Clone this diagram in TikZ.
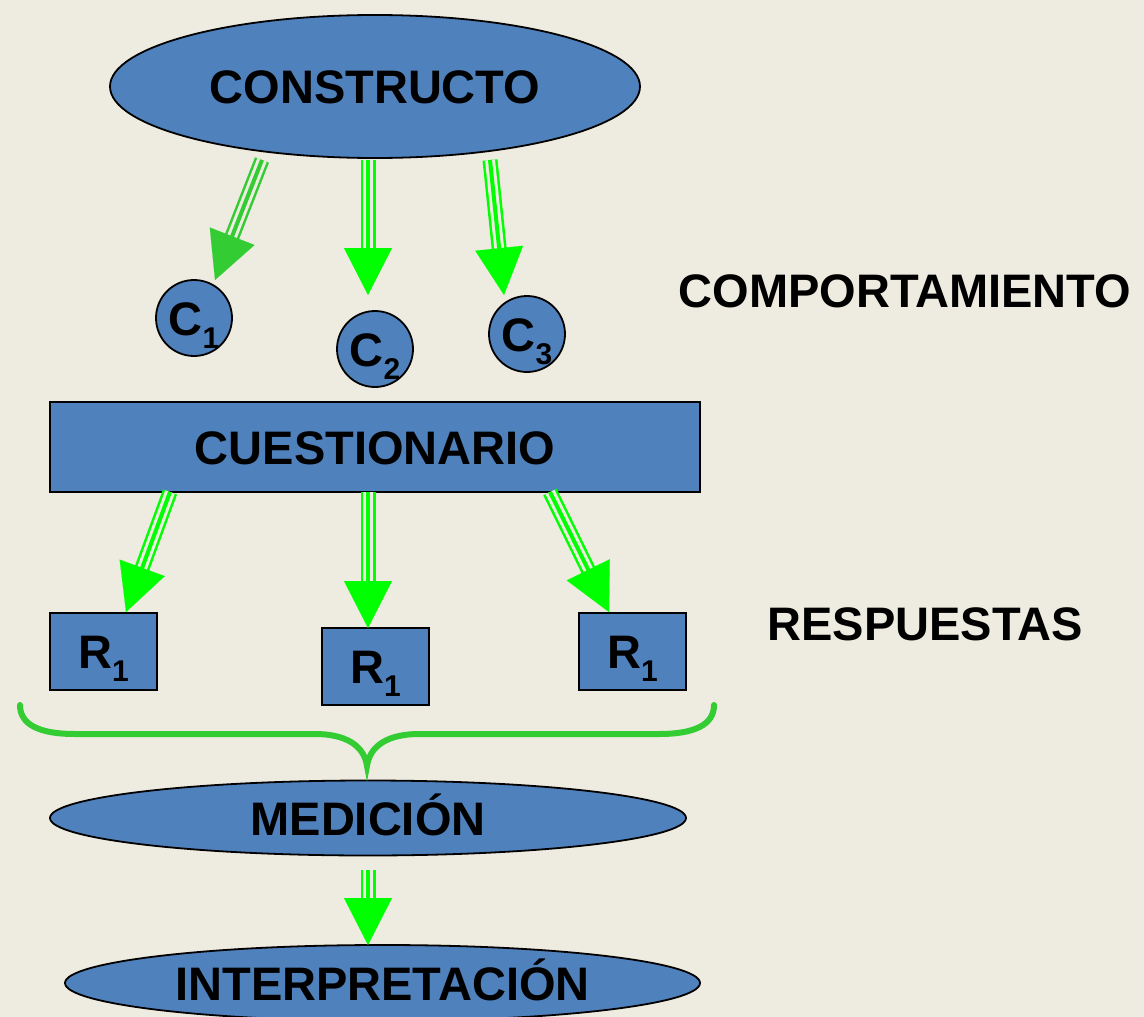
\documentclass[tikz,border=0pt]{standalone}
\usepackage{fontspec}
\setmainfont{Liberation Sans}
\usetikzlibrary{shapes.geometric,arrows.meta}
\definecolor{fondo}{RGB}{238,235,224}
\definecolor{azul}{RGB}{79,129,189}
\definecolor{verde}{RGB}{51,204,51}
\definecolor{lima}{RGB}{0,255,0}
\newcommand{\sub}[1]{\raisebox{-13pt}{\fontsize{30}{30}\selectfont #1}}
\tikzset{
  texto/.style={font=\fontsize{47}{50}\selectfont\bfseries, text height=34pt, text depth=0pt, inner sep=0pt},
  elipse/.style={texto, ellipse, draw, line width=1.8pt, fill=azul},
  caja/.style={texto, rectangle, draw, line width=1.8pt, fill=azul},
  bola/.style={texto, circle, draw, line width=1.8pt, fill=azul, minimum size=76pt},
  flecha/.style={draw=#1, fill=#1, line width=0.1pt, -{Triangle[width=48pt,length=47pt]},
    preaction={draw=#1, -, line width=2.5pt, double=fondo, double distance=10pt, shorten >=44pt},
    preaction={draw=#1, -, line width=4pt, shorten >=44pt}},
  flecha/.default=lima
}

\begin{document}
\begin{tikzpicture}[x=1pt,y=-1pt]
  \useasboundingbox (0,0) rectangle (1144,1017);
  \fill[fondo] (0,0) rectangle (1144,1017);

  \node[elipse, minimum width=530pt, minimum height=143pt] (constructo) at (375,86.5) {CONSTRUCTO};
  \node[bola] (c1) at (194,318) {C\sub{1}};
  \node[bola] (c2) at (375,349) {C\sub{2}};
  \node[bola] (c3) at (527,334) {C\sub{3}};
  \node[texto] (comport) at (905,290) {COMPORTAMIENTO};

  \node[caja, minimum width=650pt, minimum height=90pt] (cuest) at (375,447) {CUESTIONARIO};
  \node[caja, minimum width=107pt, minimum height=77pt] (r1) at (103.5,651.5) {R\sub{1}};
  \node[caja, minimum width=107pt, minimum height=77pt] (r2) at (375.5,666.5) {R\sub{1}};
  \node[caja, minimum width=107pt, minimum height=77pt] (r3) at (632.5,651.5) {R\sub{1}};
  \node[texto] (resp) at (925,623) {RESPUESTAS};

  \node[elipse, minimum width=636pt, minimum height=75pt] (medicion) at (368,818) {MEDICIÓN};
  \node[elipse, minimum width=635pt, minimum height=76pt] (interp) at (382.5,983) {INTERPRETACIÓN};

  \coordinate (a1) at (262,160);  \coordinate (t1) at (215,280);
  \coordinate (a2) at (368,160);  \coordinate (t2) at (368,295);
  \coordinate (a3) at (490,160);  \coordinate (t3) at (504,295);
  \coordinate (a4) at (170,492);  \coordinate (t4) at (126,612);
  \coordinate (a5) at (368,492);  \coordinate (t5) at (368,628);
  \coordinate (a6) at (550,492);  \coordinate (t6) at (609,612);
  \coordinate (a7) at (368,870);  \coordinate (t7) at (368,945);

  \draw[flecha=verde] (a1) -- (t1);
  \draw[flecha] (a2) -- (t2);
  \draw[flecha] (a3) -- (t3);
  \draw[flecha] (a4) -- (t4);
  \draw[flecha] (a5) -- (t5);
  \draw[flecha] (a6) -- (t6);
  \draw[flecha] (a7) -- (t7);

  \draw[verde, line width=6pt, line cap=round]
    (20,705) .. controls (20,725) and (40,734) .. (75,734) -- (315,734)
    .. controls (345,734) and (364,745) .. (367,766)
    .. controls (370,745) and (389,734) .. (419,734) -- (659,734)
    .. controls (694,734) and (714,725) .. (714,705);
\end{tikzpicture}
\end{document}
